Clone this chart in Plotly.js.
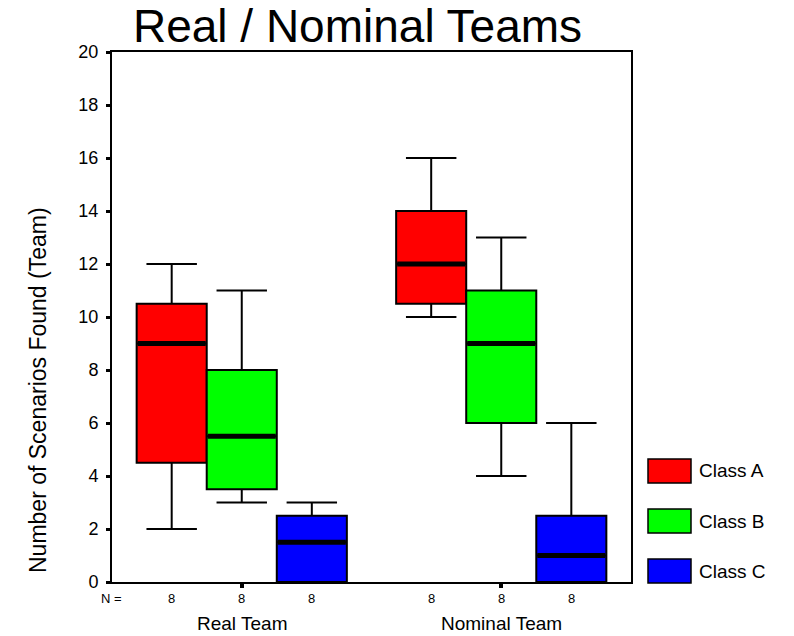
<!DOCTYPE html>
<html>
<head>
<meta charset="utf-8">
<script src="https://cdn.plot.ly/plotly-3.0.1.min.js"></script>
<style>html,body{margin:0;padding:0;background:#fff;}#chart{width:794px;height:636px;}</style>
</head>
<body>
<div id="chart"></div>
<script>
// ---- data ----
const groups = ["Real Team", "Nominal Team"];
const classes = ["Class A", "Class B", "Class C"];
const colors = ["#ff0000", "#00ff00", "#0000ff"];
// each row: one class; columns: Real Team, Nominal Team
const lowerFence = [[2, 10], [3, 4], [0, 0]];
const q1Vals     = [[4.5, 10.5], [3.5, 6], [0, 0]];
const medianVals = [[9, 12], [5.5, 9], [1.5, 1]];
const q3Vals     = [[10.5, 14], [8, 11], [2.5, 2.5]];
const upperFence = [[12, 16], [11, 13], [3, 6]];
const nCounts    = [[8, 8], [8, 8], [8, 8]];
const yTicks = [0, 2, 4, 6, 8, 10, 12, 14, 16, 18, 20];

// ---- layout helpers ----
const FONT = "Liberation Sans, Arial, Helvetica, sans-serif";
const W = 0.27;             // box width in axis units
const L = 112, R = 631, T = 52, B = 582;
const PW = R - L, PH = B - T;
const px2x = p => (p - L) / PW;
const px2y = p => (B - p) / PH;

const traces = [];
const annotations = [];
const shapes = [];

classes.forEach((cls, k) => {
  const pos = groups.map((g, gi) => gi + (k - 1) * W);
  traces.push({
    type: "box",
    name: cls,
    x: pos,
    q1: q1Vals[k],
    median: medianVals[k],
    q3: q3Vals[k],
    lowerfence: lowerFence[k],
    upperfence: upperFence[k],
    width: W,
    whiskerwidth: 0.72,
    boxpoints: false,
    fillcolor: colors[k],
    line: { color: "#000", width: 2 },
    showlegend: false
  });
  // thick median bars
  const mx = [], my = [];
  pos.forEach((p, gi) => {
    mx.push(p - W / 2 + 0.004, p + W / 2 - 0.004, null);
    my.push(medianVals[k][gi], medianVals[k][gi], null);
  });
  traces.push({
    type: "scatter", mode: "lines", x: mx, y: my,
    line: { color: "#000", width: 5 }, showlegend: false, hoverinfo: "skip"
  });
  // N counts
  pos.forEach((p, gi) => {
    annotations.push({
      xref: "x", yref: "paper", x: p, y: px2y(598), xanchor: "center", yanchor: "middle",
      text: String(nCounts[k][gi]), showarrow: false, font: { family: FONT, size: 13, color: "#000" }
    });
  });
  // legend
  const top = 459 + 50 * k;
  shapes.push({
    type: "rect", xref: "paper", yref: "paper",
    x0: px2x(648), x1: px2x(691), y0: px2y(top + 24), y1: px2y(top),
    fillcolor: colors[k], line: { color: "#000", width: 1.5 }
  });
  annotations.push({
    xref: "paper", yref: "paper", x: px2x(697), y: px2y(top + 12), xanchor: "left", yanchor: "middle",
    text: cls, showarrow: false, font: { family: FONT, size: 19, color: "#000" }
  });
});

annotations.push({
  xref: "paper", yref: "paper", x: px2x(111), y: px2y(598), xanchor: "center", yanchor: "middle",
  text: "N =", showarrow: false, font: { family: FONT, size: 13, color: "#000" }
});
groups.forEach((g, gi) => {
  annotations.push({
    xref: "x", yref: "paper", x: gi, y: px2y(623), xanchor: "center", yanchor: "middle",
    text: g, showarrow: false, font: { family: FONT, size: 19, color: "#000" }
  });
});
annotations.push({
  xref: "paper", yref: "paper", x: px2x(38), y: px2y(390), xanchor: "center", yanchor: "middle",
  textangle: -90, text: "Number of Scenarios Found (Team)", showarrow: false,
  font: { family: FONT, size: 23, color: "#000" }
});

const layout = {
  width: 794, height: 636,
  margin: { l: L, r: 794 - R, t: T, b: 636 - B, pad: 0 },
  paper_bgcolor: "#fff", plot_bgcolor: "#fff",
  title: {
    text: "Real / Nominal Teams", xref: "paper", x: px2x(357.5), xanchor: "center",
    yref: "container", y: 1 - 26 / 636, yanchor: "middle",
    font: { family: FONT, size: 46, color: "#000" }
  },
  xaxis: {
    range: [-0.5, 1.5], tickvals: [0, 1], showticklabels: false,
    ticks: "outside", ticklen: 4, tickwidth: 4, tickcolor: "#000",
    showline: true, linecolor: "#000", linewidth: 2, mirror: true,
    showgrid: false, zeroline: false, fixedrange: true
  },
  yaxis: {
    range: [0, 20], tickvals: yTicks, ticktext: yTicks.map(String),
    ticks: "outside", ticklen: 4, tickwidth: 3, tickcolor: "#000",
    ticklabelstandoff: 4,
    tickfont: { family: FONT, size: 18, color: "#000" },
    showline: true, linecolor: "#000", linewidth: 2, mirror: true,
    showgrid: false, zeroline: false, fixedrange: true
  },
  showlegend: false,
  annotations: annotations,
  shapes: shapes
};

Plotly.newPlot("chart", traces, layout, { displayModeBar: false, staticPlot: true });
</script>
</body>
</html>
